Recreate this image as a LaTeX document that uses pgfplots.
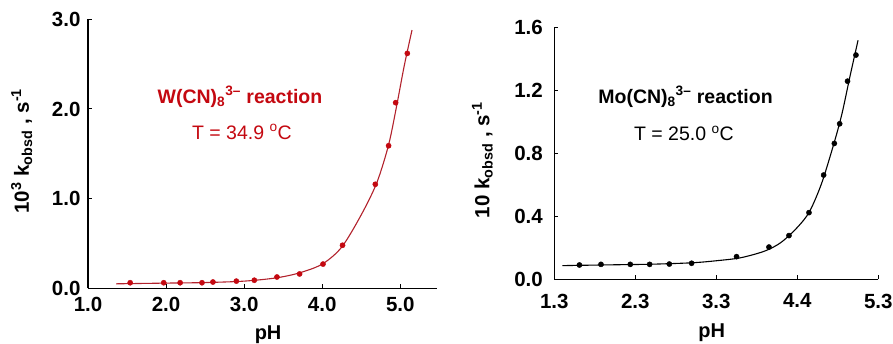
\documentclass[border=0pt]{standalone}
\usepackage{pgfplots}
\pgfplotsset{compat=1.18}
\usepackage{fontspec}
\setmainfont{Liberation Sans}
\definecolor{wred}{RGB}{196,8,16}
\definecolor{wline}{RGB}{178,34,44}
\pgfplotstableread{
x y
1.54 0.062
1.97 0.062
2.18 0.062
2.46 0.062
2.60 0.07
2.90 0.08
3.13 0.09
3.42 0.126
3.71 0.16
4.01 0.27
4.26 0.48
4.68 1.16
4.85 1.59
4.94 2.07
5.09 2.62
}\wdata
\pgfplotstableread{
x y
1.36 0.05
2.00 0.058
2.50 0.064
3.00 0.08
3.40 0.115
3.70 0.17
4.00 0.27
4.25 0.46
4.50 0.82
4.70 1.18
4.85 1.60
4.95 2.02
5.05 2.48
5.15 2.88
}\wfit
\pgfplotstableread{
x y
1.61 0.091
1.876 0.095
2.238 0.095
2.477 0.095
2.72 0.097
2.995 0.102
3.55 0.144
3.95 0.205
4.197 0.278
4.444 0.424
4.625 0.663
4.757 0.864
4.823 0.989
4.92 1.26
5.024 1.426
}\modata
\pgfplotstableread{
x y
1.40 0.087
2.00 0.092
2.50 0.096
3.00 0.105
3.30 0.118
3.60 0.137
3.90 0.18
4.10 0.235
4.30 0.33
4.45 0.43
4.60 0.61
4.75 0.86
4.85 1.05
4.95 1.29
5.05 1.52
}\mofit
\begin{document}
\begin{tikzpicture}
\useasboundingbox (0pt,0pt) rectangle (893pt,343pt);
\pgfplotsset{
  myax/.style={
    scale only axis,
    axis lines=left,
    axis line style={-, line width=1.1pt},
    tick align=inside,
    major tick length=4pt,
    tick style={line width=1pt, black},
    tick label style={font=\fontsize{20.5}{22}\selectfont\bfseries},
    label style={font=\fontsize{20}{22}\selectfont\bfseries},
    clip=false,
  }
}
\begin{axis}[myax,
  at={(88pt,54.7pt)}, anchor=south west,
  width=349pt, height=269pt,
  xmin=1, xmax=5.47, ymin=0, ymax=3,
  xtick={1,2,3,4,5}, xticklabels={1.0,2.0,3.0,4.0,5.0},
  ytick={0,1,2,3}, yticklabels={0.0,1.0,2.0,3.0},
  xticklabel style={yshift=-5pt},
  yticklabel style={xshift=-4pt},
  xlabel={pH},
  xlabel style={at={(axis description cs:0.516,-0.172)}, anchor=center},
  ylabel={10\textsuperscript{3} k\textsubscript{obsd} , s\textsuperscript{-1}},
  ylabel style={at={(axis description cs:-0.19,0.51)}, anchor=center, rotate=0, font=\fontsize{20.5}{22}\selectfont\bfseries},
]
\addplot[wline, line width=1.1pt, smooth, no marks] table[x=x,y=y]{\wfit};
\addplot[only marks, mark=*, mark size=2.6pt, wred] table[x=x,y=y]{\wdata};
\node[wred, font=\fontsize{19.5}{20}\selectfont\bfseries] at (rel axis cs:0.4355,0.712) {W(CN)\textsubscript{8}\textsuperscript{3–} reaction};
\node[wred, font=\fontsize{19.5}{20}\selectfont] at (rel axis cs:0.441,0.582) {T = 34.9 \textsuperscript{o}C};
\end{axis}
\begin{axis}[myax,
  at={(554.3pt,63.7pt)}, anchor=south west,
  width=324pt, height=251.6pt,
  xmin=1.3, xmax=5.3, ymin=0, ymax=1.6,
  xtick={1.3,2.3,3.3,4.3,5.3}, xticklabels={1.3,2.3,3.3,4.4,5.3},
  ytick={0,0.4,0.8,1.2,1.6}, yticklabels={0.0,0.4,0.8,1.2,1.6},
  xticklabel style={yshift=-11pt},
  yticklabel style={xshift=-8pt},
  xlabel={pH},
  xlabel style={at={(axis description cs:0.486,-0.212)}, anchor=center},
  ylabel={10 k\textsubscript{obsd} , s\textsuperscript{-1}},
  ylabel style={at={(axis description cs:-0.222,0.474)}, anchor=center, rotate=0, font=\fontsize{20.5}{22}\selectfont\bfseries},
]
\addplot[black, line width=1.1pt, smooth, no marks] table[x=x,y=y]{\mofit};
\addplot[only marks, mark=*, mark size=2.6pt, black] table[x=x,y=y]{\modata};
\node[black, font=\fontsize{19.5}{20}\selectfont\bfseries] at (rel axis cs:0.405,0.726) {Mo(CN)\textsubscript{8}\textsuperscript{3–} reaction};
\node[black, font=\fontsize{19.5}{20}\selectfont] at (rel axis cs:0.40,0.580) {T = 25.0 \textsuperscript{o}C};
\end{axis}
\end{tikzpicture}
\end{document}
